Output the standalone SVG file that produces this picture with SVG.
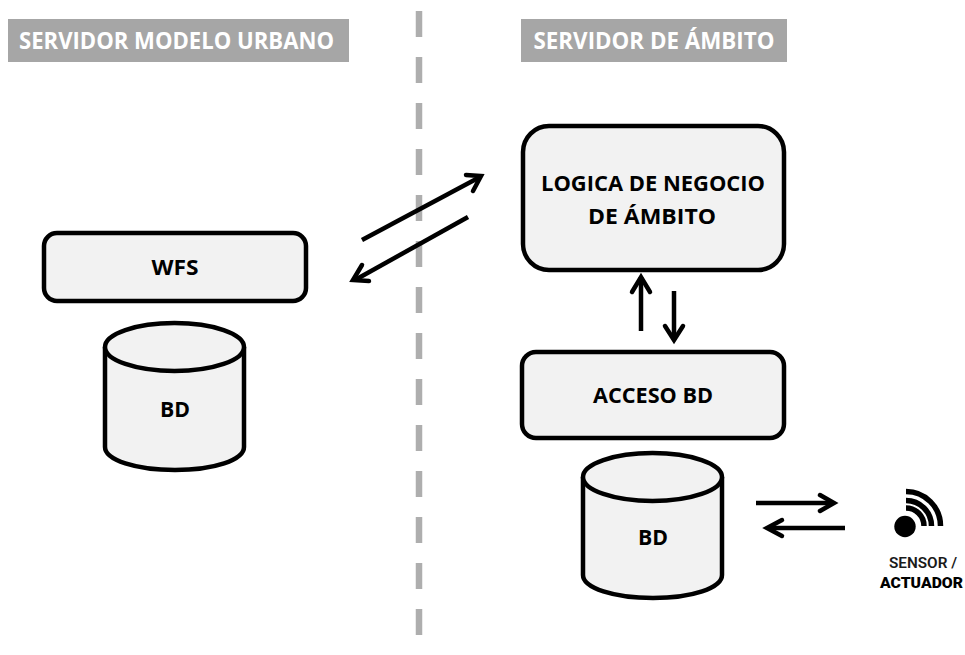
<svg xmlns="http://www.w3.org/2000/svg" width="965" height="655" viewBox="0 0 965 655">
<defs>
<style>
text{font-family:"Open Sans","Noto Sans","Liberation Sans",sans-serif;font-weight:700;text-anchor:middle}
.box{fill:#f2f2f2;stroke:#000;stroke-width:4.5}
.lbl{font-size:21px;fill:#000}
.hdr{font-size:23px;fill:#fff}
.band{fill:#a6a6a6}
.arr{fill:none;stroke:#000;stroke-width:4.5}
.head{fill:none;stroke:#000;stroke-width:4.5;stroke-linecap:round;stroke-linejoin:miter}
.tag{font-family:Roboto,"Liberation Sans",sans-serif}
</style>
</defs>
<rect width="965" height="655" fill="#fff"/>
<line id="divider" x1="419" y1="11" x2="419" y2="637" stroke="#aeaeae" stroke-width="6.500" stroke-dasharray="26 20"/>
<g id="header-left"><rect class="band" x="8" y="19" width="341" height="43"/><text class="hdr" x="176.500" y="49" textLength="315" lengthAdjust="spacingAndGlyphs">SERVIDOR MODELO URBANO</text></g>
<g id="header-right"><rect class="band" x="521" y="19" width="266" height="43"/><text class="hdr" x="654" y="49" textLength="241" lengthAdjust="spacingAndGlyphs">SERVIDOR DE ÁMBITO</text></g>
<g id="wfs"><rect class="box" x="44" y="233" width="262" height="68" rx="13"/><text class="lbl" x="175" y="275" textLength="47" lengthAdjust="spacingAndGlyphs">WFS</text></g>
<g id="bd-left"><path class="box" d="M105 347V447C105 460 136 470 175 470S244 460 244 447V347"/><ellipse class="box" cx="174.500" cy="347" rx="69.500" ry="24"/><text class="lbl" x="175" y="417" textLength="30" lengthAdjust="spacingAndGlyphs">BD</text></g>
<g id="logica"><rect class="box" x="523" y="126" width="261" height="144" rx="26"/><text class="lbl" x="653" y="191" textLength="224" lengthAdjust="spacingAndGlyphs">LOGICA DE NEGOCIO</text><text class="lbl" x="652" y="223.500" textLength="128" lengthAdjust="spacingAndGlyphs">DE ÁMBITO</text></g>
<g id="acceso"><rect class="box" x="522" y="352" width="262" height="86" rx="14"/><text class="lbl" x="653" y="403" textLength="120" lengthAdjust="spacingAndGlyphs">ACCESO BD</text></g>
<g id="bd-right"><path class="box" d="M583 477V575C583 588 614 598 653 598S722 588 722 575V477"/><ellipse class="box" cx="652.500" cy="477" rx="69.500" ry="24"/><text class="lbl" x="653" y="545" textLength="30" lengthAdjust="spacingAndGlyphs">BD</text></g>
<g id="sensor">
<circle cx="905" cy="526.500" r="10.700" fill="#000"/>
<path d="M906 508A18 18 0 0 1 924 526M906 500.500A25.500 25.500 0 0 1 931.500 526M906 491.500A34.500 34.500 0 0 1 940.500 526" fill="none" stroke="#000" stroke-width="5.500"/>
<text class="tag" x="923" y="567.500" font-size="14.500" textLength="68" lengthAdjust="spacingAndGlyphs" style="font-weight:600;fill:#1a1a1a">SENSOR /</text>
<text class="tag" x="921.500" y="587.500" font-size="15" textLength="83" lengthAdjust="spacingAndGlyphs" style="font-weight:900;fill:#000">ACTUADOR</text>
</g>
<g id="connectors">
<path class="arr" d="M362 240L480 177"/><path class="head" d="M466 175L481 176L473 191"/>
<path class="arr" d="M468 217L355 280"/><path class="head" d="M362 265L353 280L369 281"/>
<path class="arr" d="M641 331V277"/><path class="head" d="M632 292L641 277L650 292"/>
<path class="arr" d="M674 291V340"/><path class="head" d="M665 326L674 340L683 326"/>
<path class="arr" d="M756 503H833"/><path class="head" d="M820 495L834 503L820 511"/>
<path class="arr" d="M845 528H768"/><path class="head" d="M782 520L767 528L782 536"/>
</g>
</svg>
